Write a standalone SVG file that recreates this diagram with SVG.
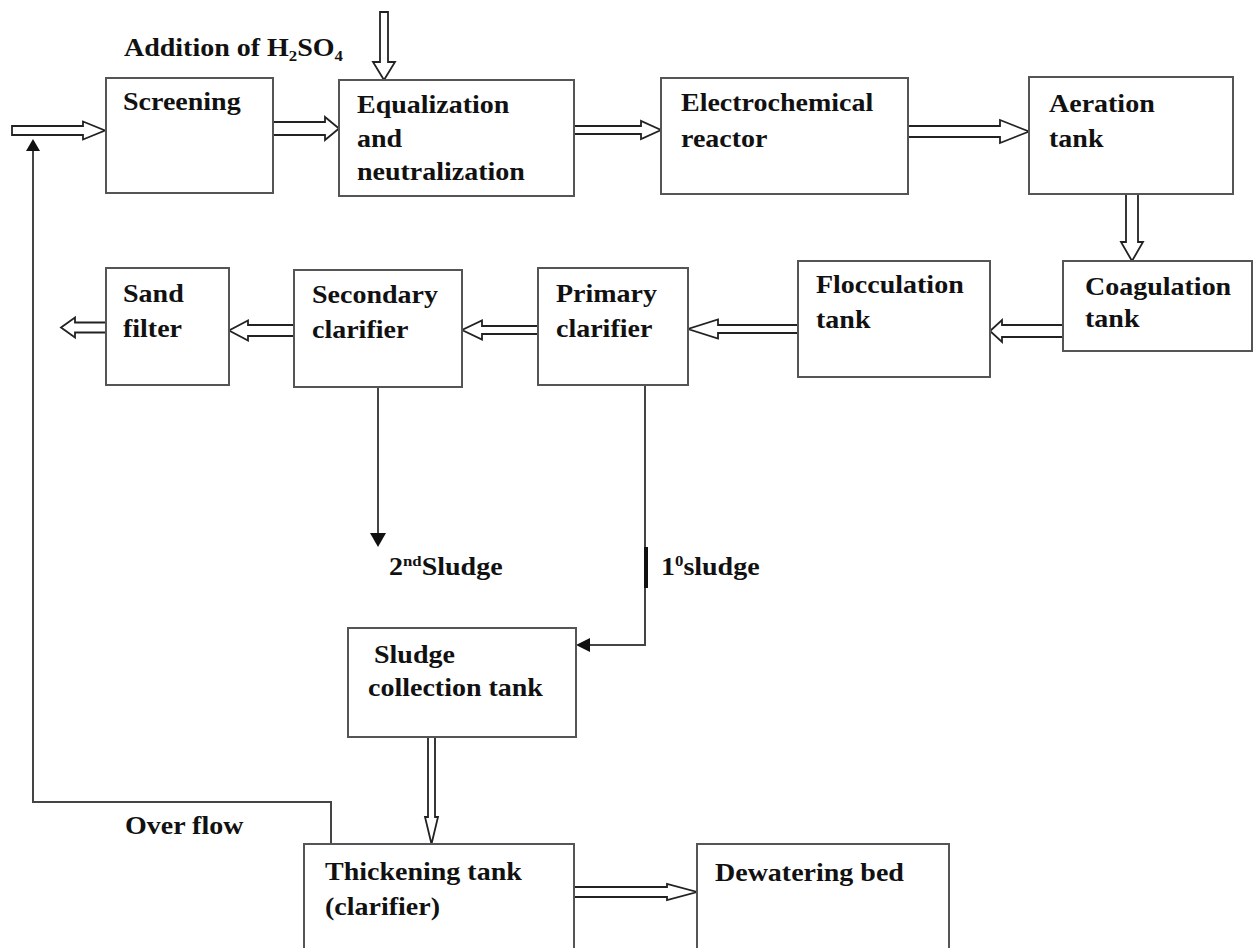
<svg xmlns="http://www.w3.org/2000/svg" width="1253" height="948" viewBox="0 0 1253 948">
<style>
.box{fill:#fff;stroke:#555;stroke-width:2}
.dbl{fill:#fff;stroke:#222;stroke-width:1.8;stroke-linejoin:miter}
.thin{fill:none;stroke:#444;stroke-width:2}
.head{fill:#111;stroke:none}
.t{font-family:"Liberation Serif","Times New Roman",serif;font-weight:bold;font-size:25px;fill:#111}
.s{font-size:15px}
</style>
<rect width="1253" height="948" fill="#fff"/>
<g id="connectors">
<path class="dbl" d="M12,126 L83,126 L83,121.5 L105,130.5 L83,139.5 L83,135 L12,135 Z"/>
<path class="dbl" d="M273,122 L325,122 L325,117 L339,128.5 L325,140 L325,135 L273,135"/>
<path class="dbl" d="M574,126 L641,126 L641,121 L661,130 L641,139 L641,134 L574,134"/>
<path class="dbl" d="M908,126 L1000,126 L1000,120 L1029,131.5 L1000,143 L1000,137 L908,137"/>
<path class="dbl" d="M1126,194 L1126,242 L1121,242 L1132,261 L1143,242 L1138,242 L1138,194"/>
<path class="dbl" d="M1063,325 L1002,325 L1002,320 L990,331 L1002,342 L1002,337 L1063,337"/>
<path class="dbl" d="M798,325 L718,325 L718,319.5 L688,329 L718,338.5 L718,333 L798,333"/>
<path class="dbl" d="M538,326 L482,326 L482,320.5 L462,330 L482,339.5 L482,334 L538,334"/>
<path class="dbl" d="M294,325 L248,325 L248,320.5 L229,330.5 L248,340.5 L248,336 L294,336"/>
<path class="dbl" d="M106,322.5 L75,322.5 L75,317.5 L61,327.5 L75,337.5 L75,332.5 L106,332.5"/>
<path class="dbl" d="M380,12 L380,62 L373,62 L384,80 L395,62 L388,62 L388,12 Z"/>
<path class="dbl" d="M428,737 L428,817 L425,817 L431.5,844 L438,817 L435,817 L435,737"/>
<path class="dbl" d="M574,887 L667,887 L667,884 L697,892 L667,900 L667,897 L574,897"/>
<polyline class="thin" points="331,844 331,802 33,802 33,150"/>
<polygon class="head" points="26,151 40,151 33,139"/>
<line class="thin" x1="378" y1="387" x2="378" y2="534"/>
<polygon class="head" points="370,533 386,533 378,547"/>
<polyline class="thin" points="645,385 645,645 589,645"/>
<polygon class="head" points="590,638 590,652 576,645"/>
<rect x="644" y="547" width="4" height="41" fill="#111"/>
</g>
<g id="addition">
<text class="t" transform="translate(124 56) scale(1.12 1)">Addition of H<tspan class="s" dy="5">2</tspan><tspan dy="-5">SO</tspan><tspan class="s" dy="5">4</tspan></text>
</g>
<g id="screening">
<rect class="box" x="106" y="78" width="167" height="115"/>
<text class="t" transform="translate(123 110) scale(1.12 1)">Screening</text>
</g>
<g id="equalization">
<rect class="box" x="339" y="80" width="235" height="116"/>
<text class="t" transform="translate(357 113) scale(1.12 1)">Equalization</text>
<text class="t" transform="translate(357 146.5) scale(1.12 1)">and</text>
<text class="t" transform="translate(357 180) scale(1.12 1)">neutralization</text>
</g>
<g id="electrochemical">
<rect class="box" x="661" y="78" width="247" height="116"/>
<text class="t" transform="translate(681 111) scale(1.12 1)">Electrochemical</text>
<text class="t" transform="translate(681 147) scale(1.12 1)">reactor</text>
</g>
<g id="aeration">
<rect class="box" x="1029" y="77" width="204" height="117"/>
<text class="t" transform="translate(1049 112) scale(1.12 1)">Aeration</text>
<text class="t" transform="translate(1049 147) scale(1.12 1)">tank</text>
</g>
<g id="coagulation">
<rect class="box" x="1063" y="261" width="189" height="90"/>
<text class="t" transform="translate(1085 295) scale(1.12 1)">Coagulation</text>
<text class="t" transform="translate(1085 327) scale(1.12 1)">tank</text>
</g>
<g id="flocculation">
<rect class="box" x="798" y="261" width="192" height="116"/>
<text class="t" transform="translate(816 293) scale(1.12 1)">Flocculation</text>
<text class="t" transform="translate(816 328) scale(1.12 1)">tank</text>
</g>
<g id="primary">
<rect class="box" x="538" y="268" width="150" height="117"/>
<text class="t" transform="translate(556 302) scale(1.12 1)">Primary</text>
<text class="t" transform="translate(556 337) scale(1.12 1)">clarifier</text>
</g>
<g id="secondary">
<rect class="box" x="294" y="270" width="168" height="117"/>
<text class="t" transform="translate(312 303) scale(1.12 1)">Secondary</text>
<text class="t" transform="translate(312 338) scale(1.12 1)">clarifier</text>
</g>
<g id="sandfilter">
<rect class="box" x="106" y="268" width="123" height="117"/>
<text class="t" transform="translate(123 302) scale(1.12 1)">Sand</text>
<text class="t" transform="translate(123 337) scale(1.12 1)">filter</text>
</g>
<g id="labels">
<text class="t" transform="translate(389 575) scale(1.12 1)">2<tspan class="s" dy="-9">nd</tspan><tspan dy="9">Sludge</tspan></text>
<text class="t" transform="translate(661 575) scale(1.12 1)">1<tspan class="s" dy="-9">0</tspan><tspan dy="9">sludge</tspan></text>
<text class="t" transform="translate(125 834) scale(1.12 1)">Over flow</text>
</g>
<g id="sludgecollection">
<rect class="box" x="348" y="628" width="228" height="109"/>
<text class="t" transform="translate(374 663) scale(1.12 1)">Sludge</text>
<text class="t" transform="translate(368 696) scale(1.12 1)">collection tank</text>
</g>
<g id="thickening">
<rect class="box" x="304" y="844" width="270" height="120"/>
<text class="t" transform="translate(325 880) scale(1.12 1)">Thickening tank</text>
<text class="t" transform="translate(325 915) scale(1.12 1)">(clarifier)</text>
</g>
<g id="dewatering">
<rect class="box" x="697" y="844" width="252" height="120"/>
<text class="t" transform="translate(715 881) scale(1.12 1)">Dewatering bed</text>
</g>
</svg>
